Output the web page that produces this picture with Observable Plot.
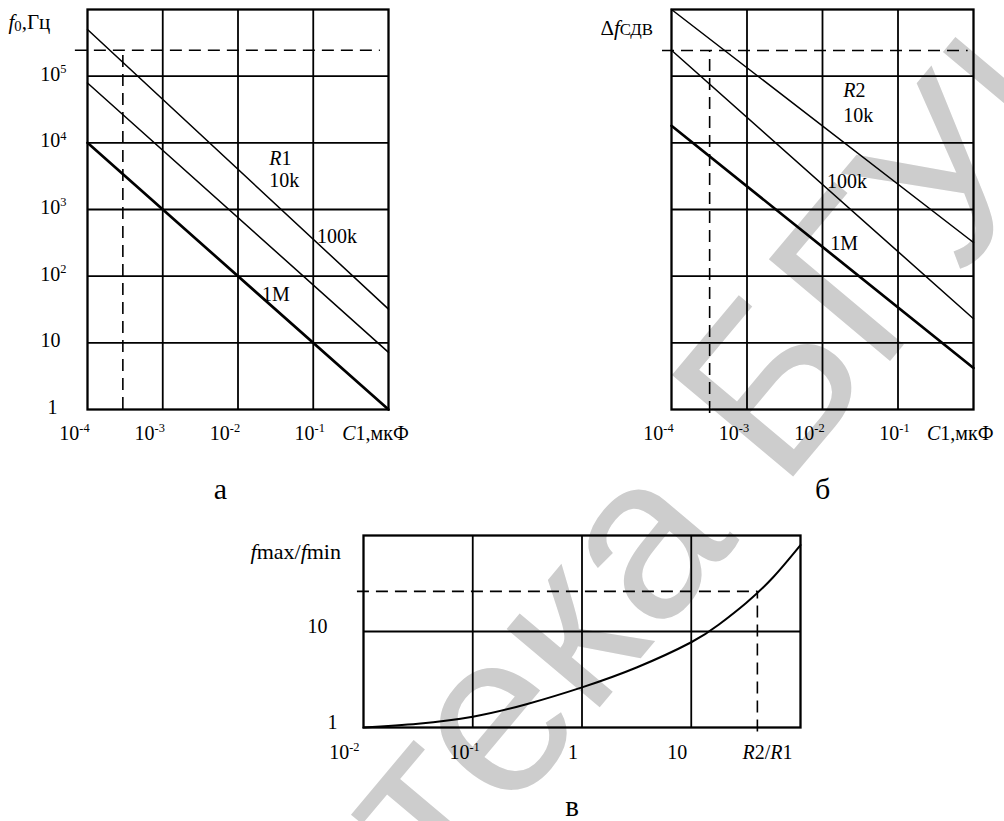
<!DOCTYPE html>
<html>
<head>
<meta charset="utf-8">
<script src="https://cdn.jsdelivr.net/npm/d3@7"></script>
<script src="https://cdn.jsdelivr.net/npm/@observablehq/plot@0.6"></script>
<style>
  html, body { margin: 0; padding: 0; background: #fff; }
  body { width: 1004px; height: 821px; position: relative; overflow: hidden; font-family: "Liberation Serif", serif; }
  .panel { position: absolute; }
  .panel svg { overflow: visible; background: none !important; }
  .panel svg text { font-family: "Liberation Serif", "Times New Roman", serif !important; }
  #wm { position: absolute; left: 0; top: 0; }
  #wm text { font-family: "Liberation Sans", Arial, sans-serif; font-size: 230px; fill: #cdcdcd; }
</style>
</head>
<body>
<svg id="wm" width="1004" height="821">
  <text transform="translate(740,540) rotate(-50)" text-anchor="end">Библиотека</text>
  <text transform="translate(781,491) rotate(-50)">БГУИР</text>
</svg>
<div id="pa" class="panel" style="left:0px;top:0px;width:440px;height:510px"></div>
<div id="pb" class="panel" style="left:580px;top:0px;width:424px;height:510px"></div>
<div id="pc" class="panel" style="left:200px;top:500px;width:620px;height:321px"></div>
<script>
// ---------- data ----------
const C_DECADES = [1e-4, 1e-3, 1e-2, 1e-1, 1];          // C1, мкФ
const F_DECADES = [1, 10, 1e2, 1e3, 1e4, 1e5, 1e6];      // Гц
const C_TICK_LABELS = ["10^{-4}", "10^{-3}", "10^{-2}", "10^{-1}"];
const F_TICK_LABELS = ["1", "10", "10^{2}", "10^{3}", "10^{4}", "10^{5}"];
const RES = ["10k", "100k", "1M"];
const C_ENDS = [1e-4, 1];
// panel а : f0 vs C1 for R1
const F0_10K = [5.0e5, 32];
const F0_100K = [7.9e4, 7.2];
const F0_1M = [1e4, 1];
// panel б : Δf СДВ vs C1 for R2
const DF_10K = [1e6, 320];
const DF_100K = [2.45e5, 23];
const DF_1M = [1.8e4, 4.2];
// panel в : fmax/fmin vs R2/R1
const RATIO_DECADES = [0.01, 0.1, 1, 10, 100];
const RATIO_TICK_LABELS = ["10^{-2}", "10^{-1}", "1", "10"];
const FR_DECADES = [1, 10, 100];
const FR_TICK_LABELS = ["1", "10"];
const RATIO = [0.01, 0.0316, 0.1, 0.316, 1, 3.16, 10, 17.8, 31.6, 56.2, 100];
const FMAXMIN = [1, 1.096, 1.294, 1.758, 2.618, 4.217, 7.727, 11.75, 19.72, 36.73, 79.4];
// dashed guide lines
const GUIDE_A = {c: 2.95e-4, f: 2.45e5, cFrom: 6.9e-5, cTo: 0.78, fFrom: 1};
const GUIDE_B = {c: 3.2e-4, f: 2.43e5, cFrom: 7.6e-5, cTo: 0.85, fFrom: 0.87};
const GUIDE_C = {r: 40.3, q: 26.2, rFrom: 0.0088, qFrom: 0.9};
// curve annotations
const NOTES_A = [
  {t: "*R*1", c: 0.0261, f: 4624},
  {t: "10k", c: 0.0261, f: 2163},
  {t: "100k", c: 0.1122, f: 315.5},
  {t: "1M", c: 0.0209, f: 42.2}
];
const NOTES_B = [
  {t: "*R*2", c: 0.01884, f: 49200},
  {t: "10k", c: 0.01884, f: 20750},
  {t: "100k", c: 0.01148, f: 2089},
  {t: "1M", c: 0.01268, f: 249.5}
];

// ---------- helpers ----------
const toRows = (ys) => C_ENDS.map((c, i) => ({c, f: ys[i]}));
const cTicks = C_DECADES.slice(0, 4).map((v, i) => ({v, t: C_TICK_LABELS[i]}));
const fTicks = F_DECADES.slice(0, 6).map((v, i) => ({v, t: F_TICK_LABELS[i]}));
const rTicks = RATIO_DECADES.slice(0, 4).map((v, i) => ({v, t: RATIO_TICK_LABELS[i]}));
const qTicks = FR_DECADES.slice(0, 2).map((v, i) => ({v, t: FR_TICK_LABELS[i]}));
const curve = RATIO.map((r, i) => ({r, q: FMAXMIN[i]}));

const K = "#000";
const GRID = 1.8, FRAME = 2.3, THIN = 1.5, THICK = 2.7, DASH = "12,7", DW = 1.6;
const FONT = "Liberation Serif";
const T = (o) => Object.assign({fontFamily: FONT, fontSize: 20, fill: K, lineAnchor: "bottom"}, o);

function rich(svg) {
  svg.querySelectorAll("text").forEach(t => {
    const s = t.textContent;
    if (!/[\^_~*]/.test(s)) return;
    const fs = parseFloat(getComputedStyle(t).fontSize) || 20;
    t.textContent = "";
    let cur = 0, m;
    const re = /\^\{([^}]*)\}|_\{([^}]*)\}|~\{([^}]*)\}|\*([^*]*)\*|([^\^_~*]+)/g;
    while ((m = re.exec(s))) {
      const ts = document.createElementNS("http://www.w3.org/2000/svg", "tspan");
      let target = 0, size = null, italic = false, txt;
      if (m[1] !== undefined) { txt = m[1]; target = -0.38 * fs; size = 0.62; }
      else if (m[2] !== undefined) { txt = m[2]; target = 0.12 * fs; size = 0.7; }
      else if (m[3] !== undefined) { txt = m[3]; target = 0; size = 0.8; }
      else if (m[4] !== undefined) { txt = m[4]; italic = true; }
      else txt = m[5];
      if (target !== cur) { ts.setAttribute("dy", (target - cur).toFixed(2)); cur = target; }
      if (size) ts.setAttribute("font-size", (size * fs).toFixed(1) + "px");
      if (italic) ts.setAttribute("font-style", "italic");
      ts.textContent = txt;
      t.appendChild(ts);
    }
  });
}

function capPanel(lines, guide, notes, opts) {
  const marks = [
    Plot.ruleX(C_DECADES.slice(1, -1), {stroke: K, strokeWidth: GRID}),
    Plot.ruleY(F_DECADES.slice(1, -1), {stroke: K, strokeWidth: GRID}),
    Plot.frame({stroke: K, strokeWidth: FRAME}),
    Plot.ruleY([guide], {y: "f", x1: "cFrom", x2: "cTo", stroke: K, strokeWidth: DW, strokeDasharray: DASH}),
    Plot.ruleX([guide], {x: "c", y1: "fFrom", y2: "f", stroke: K, strokeWidth: DW, strokeDasharray: DASH}),
    Plot.line(toRows(lines[0]), {x: "c", y: "f", stroke: K, strokeWidth: THIN}),
    Plot.line(toRows(lines[1]), {x: "c", y: "f", stroke: K, strokeWidth: THIN}),
    Plot.line(toRows(lines[2]), {x: "c", y: "f", stroke: K, strokeWidth: THICK}),
    Plot.text(notes, T({x: "c", y: "f", text: "t", textAnchor: "start"})),
    Plot.text(cTicks.slice(0, 3), T({x: "v", text: "t", frameAnchor: "bottom", dy: 30, dx: -13})),
    Plot.text(cTicks.slice(3), T({x: "v", text: "t", frameAnchor: "bottom", dy: 30, dx: -3.5})),
    Plot.text(["*C*1,мкФ"], T({x: () => 0.1, text: d => d, frameAnchor: "bottom", textAnchor: "start", dy: 30, dx: 29})),
    Plot.text([opts.title], T({text: d => d, frameAnchor: "top-left", textAnchor: "start", dx: opts.titleDx, dy: opts.titleDy, fontSize: 21})),
    Plot.text([opts.letter], T({text: d => d, frameAnchor: "bottom", dx: opts.letterDx, dy: 89, fontSize: 30}))
  ];
  if (opts.yLabels) {
    marks.push(
      Plot.text(fTicks.slice(2), T({y: "v", text: "t", frameAnchor: "left", textAnchor: "end", dx: -21, dy: 4.5})),
      Plot.text(fTicks.slice(1, 2), T({y: "v", text: "t", frameAnchor: "left", textAnchor: "end", dx: -27, dy: 4.5})),
      Plot.text(fTicks.slice(0, 1), T({y: "v", text: "t", frameAnchor: "left", textAnchor: "end", dx: -30, dy: 4}))
    );
  }
  return Plot.plot({
    width: opts.width, height: 510,
    marginLeft: opts.ml, marginRight: opts.mr, marginTop: 9, marginBottom: 101,
    x: {type: "log", domain: [1e-4, 1], axis: null},
    y: {type: "log", domain: [1, 1e6], axis: null},
    style: {background: "none", fontFamily: FONT, fontSize: "20px", color: K, overflow: "visible"},
    marks
  });
}

const pa = capPanel([F0_10K, F0_100K, F0_1M], GUIDE_A, NOTES_A,
  {width: 440, ml: 87, mr: 52, yLabels: true, title: "*f*_{0},Гц", titleDx: -79, titleDy: 19, letter: "а", letterDx: -17.5});
document.getElementById("pa").appendChild(pa);
rich(pa);

const pb = capPanel([DF_10K, DF_100K, DF_1M], GUIDE_B, NOTES_B,
  {width: 424, ml: 91, mr: 31, yLabels: false, title: "Δ*f*~{СДВ}", titleDx: -71, titleDy: 25, letter: "б", letterDx: 0});
document.getElementById("pb").appendChild(pb);
rich(pb);

const pc = Plot.plot({
  width: 620, height: 321,
  marginLeft: 163, marginRight: 20, marginTop: 35, marginBottom: 94,
  x: {type: "log", domain: [0.01, 100], axis: null},
  y: {type: "log", domain: [1, 100], axis: null},
  style: {background: "none", fontFamily: FONT, fontSize: "20px", color: K, overflow: "visible"},
  marks: [
    Plot.ruleX(RATIO_DECADES.slice(1, -1), {stroke: K, strokeWidth: GRID}),
    Plot.ruleY(FR_DECADES.slice(1, -1), {stroke: K, strokeWidth: GRID}),
    Plot.frame({stroke: K, strokeWidth: FRAME}),
    Plot.ruleY([GUIDE_C], {y: "q", x1: "rFrom", x2: "r", stroke: K, strokeWidth: DW, strokeDasharray: DASH}),
    Plot.ruleX([GUIDE_C], {x: "r", y1: "qFrom", y2: "q", stroke: K, strokeWidth: DW, strokeDasharray: DASH}),
    Plot.line(curve, {x: "r", y: "q", stroke: K, strokeWidth: 2, curve: "natural"}),
    Plot.text([rTicks[0], rTicks[2], rTicks[3]], T({x: "v", text: "t", frameAnchor: "bottom", textAnchor: "end", dy: 31.5, dx: -4})),
    Plot.text([rTicks[1]], T({x: "v", text: "t", frameAnchor: "bottom", textAnchor: "end", dy: 31.5, dx: 7})),
    Plot.text(["*R*2/*R*1"], T({text: d => d, frameAnchor: "bottom-right", textAnchor: "end", dy: 31.5, dx: -8})),
    Plot.text(qTicks.slice(1), T({y: "v", text: "t", frameAnchor: "left", textAnchor: "end", dx: -36, dy: 1})),
    Plot.text(qTicks.slice(0, 1), T({y: "v", text: "t", frameAnchor: "left", textAnchor: "end", dx: -26, dy: 1.5})),
    Plot.text(["*f*max/*f*min"], T({text: d => d, frameAnchor: "top-left", textAnchor: "start", dx: -113, dy: 23, fontSize: 22})),
    Plot.text(["в"], T({text: d => d, frameAnchor: "bottom", dx: -10, dy: 88, fontSize: 29}))
  ]
});
document.getElementById("pc").appendChild(pc);
rich(pc);
</script>
</body>
</html>
